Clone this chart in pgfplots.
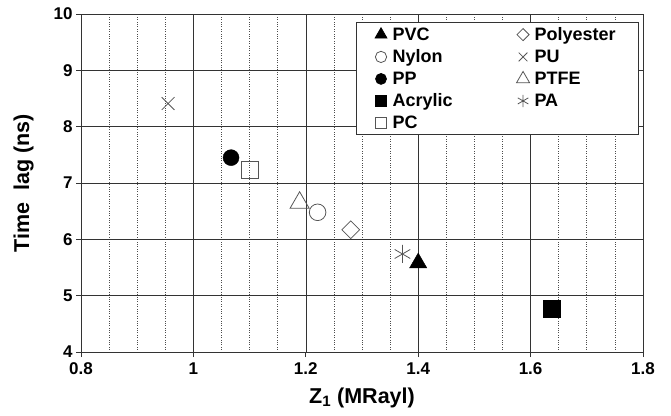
\documentclass[border=0pt]{standalone}
\usepackage{fontspec}
\setmainfont{Liberation Sans}
\usepackage{pgfplots}
\pgfplotsset{compat=1.18}
\definecolor{mkgray}{RGB}{85,85,85}
\begin{document}
\begin{tikzpicture}
\begin{axis}[
  scale only axis,
  width=562bp, height=338bp,
  xmin=0.8, xmax=1.8, ymin=4, ymax=10,
  xtick={0.8,1,1.2,1.4,1.6,1.8},
  xticklabels={0.8,1,1.2,1.4,1.6,1.8},
  ytick={4,5,6,7,8,9,10},
  minor x tick num=3,
  grid=both,
  major grid style={draw=black!80, line width=0.6pt},
  minor grid style={draw=black!70, dotted, line width=0.7pt},
  minor tick length=0pt,
  major tick length=5bp,
  tick align=outside,
  xtick pos=bottom, ytick pos=left,
  axis line style={draw=black!80, line width=0.8pt},
  tick style={draw=black!80, line width=0.8pt},
  /pgf/number format/assume math mode=true,
  ticklabel style={font=\fontsize{17bp}{20bp}\selectfont\bfseries},
  xticklabel style={yshift=-2bp},
  xlabel={Z\textsubscript{1} (MRayl)},
  ylabel={Time\ \ lag (ns)},
  label style={font=\fontsize{21.5bp}{24bp}\selectfont\bfseries},
  xlabel style={at={(axis description cs:0.5,-0.135)}, anchor=center},
  ylabel style={at={(axis description cs:-0.102,0.5)}, anchor=center},
  legend columns=2,
  legend cell align=left,
  legend style={at={(axis description cs:0.992,0.975)}, anchor=north east,
    draw=black!80, line width=0.8pt, fill=white,
    font=\fontsize{18bp}{20bp}\selectfont\bfseries,
    row sep=3.8bp, column sep=0bp, inner xsep=18bp, inner ysep=2.5bp,
    nodes={inner xsep=4.5bp},
    /tikz/every even column/.append style={column sep=59bp}},
  legend image code/.code={\path[draw=none, fill=none] (0bp,0bp) -- (14bp,0bp); \draw[#1, every mark/.append style={scale=0.68}] plot coordinates {(7bp,0bp)};},
]
\addplot[only marks, mark=triangle*, mark size=10bp, black, mark options={fill=black}] coordinates {(1.400,5.58)};
\addlegendentry{PVC}
\addplot[only marks, mark=square, mark size=6.3bp, mkgray, mark options={rotate=45, line width=0.8pt, fill=white}] coordinates {(1.280,6.17)};
\addlegendentry{Polyester}
\addplot[only marks, mark=o, mark size=8.3bp, mkgray, mark options={line width=0.8pt, fill=white}] coordinates {(1.221,6.48)};
\addlegendentry{Nylon}
\addplot[only marks, mark=x, mark size=9bp, mkgray, mark options={line width=0.8pt}] coordinates {(0.955,8.41)};
\addlegendentry{PU}
\addplot[only marks, mark=*, mark size=8bp, black, mark options={fill=black}] coordinates {(1.067,7.45)};
\addlegendentry{PP}
\addplot[only marks, mark=triangle, mark size=11bp, mkgray, mark options={line width=0.8pt}] coordinates {(1.189,6.65)};
\addlegendentry{PTFE}
\addplot[only marks, mark=square*, mark size=8.3bp, black, mark options={fill=black}] coordinates {(1.638,4.77)};
\addlegendentry{Acrylic}
\addplot[only marks, mark=asterisk, mark size=9bp, mkgray, mark options={line width=0.8pt}] coordinates {(1.372,5.74)};
\addlegendentry{PA}
\addplot[only marks, mark=square, mark size=8.3bp, mkgray, mark options={line width=0.8pt, fill=white}] coordinates {(1.101,7.23)};
\addlegendentry{PC}
\end{axis}
\pgfresetboundingbox
\path[use as bounding box] (-81bp,-64bp) rectangle (590bp,352bp);
\end{tikzpicture}
\end{document}
